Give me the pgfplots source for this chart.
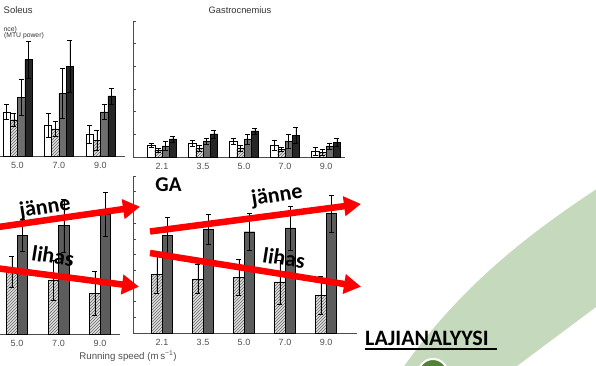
\documentclass[border=0pt]{standalone}
\usepackage{fontspec}
\setmainfont{Liberation Sans}
\newfontfamily\calibri{Carlito}
\usepackage{pgfplots}
\pgfplotsset{compat=1.18}
\usetikzlibrary{patterns,arrows.meta}

\definecolor{bandgreen}{RGB}{197,218,188}
\definecolor{darkgreen}{RGB}{84,130,53}
\definecolor{barGray}{RGB}{110,110,110}
\definecolor{barGrayB}{RGB}{92,92,92}
\definecolor{barDark}{RGB}{38,38,38}
\definecolor{txtgray}{RGB}{80,80,80}

\pgfplotsset{
  panel/.style={
    scale only axis, clip=false,
    axis line style={black!70, line width=0.6pt},
    tick style={black!70, line width=0.5pt},
    tick align=inside, major tick length=3pt,
    xtick style={draw=none},
    xticklabel style={font=\fontsize{9}{10}\selectfont, text=txtgray},
    yticklabels={},
    axis x line*=bottom,
    ymin=0,
  },
  eb/.style={error bars/.cd, y dir=both, y explicit,
    error bar style={black, line width=0.5pt},
    error mark=|,
    error mark options={black, mark size=2.5pt, line width=0.5pt}},
  wbar/.style={fill=white, draw=black, line width=0.4pt, eb},
  hbar/.style={fill=gray!25, draw=black, line width=0.4pt,
    postaction={pattern=north east lines, pattern color=black!60}, eb},
  gbar/.style={fill=barGray, draw=black, line width=0.4pt, eb},
  ggbar/.style={fill=barGrayB, draw=black, line width=0.4pt, eb},
  kbar/.style={fill=barDark, draw=black, line width=0.4pt, eb},
}

\begin{document}
\begin{tikzpicture}
\begin{scope}
\clip (0pt,0pt) rectangle (596pt,366pt);
\fill[white] (0pt,0pt) rectangle (596pt,366pt);

\begin{scope}[x=1pt,y=1pt]
  % green decorative band
  \fill[bandgreen] (400,-6) .. controls (460,80) and (530,135) .. (620,192)
     -- (620,77) -- (596,59) -- (517,0) -- (512,-6) -- cycle;
  \draw[white, line width=2pt, fill=darkgreen] (433,-7.6) circle (14.6);
\end{scope}

% ---------- top left: Soleus ----------
\begin{axis}[panel,
  at={(-40pt,210pt)}, anchor=south west,
  width=165pt, height=136pt,
  ybar=0pt, bar width=7.3pt,
  xmin=-1.3855, xmax=2.5904, ymax=6,
  axis y line=none,
  xtick={0,1,2}, xticklabels={5.0,7.0,9.0}]
\addplot[wbar] coordinates
  {(0,1.95) +- (0,0.35) (1,1.37) +- (0,0.53) (2,0.97) +- (0,0.40)};
\addplot[hbar] coordinates
  {(0,1.60) +- (0,0.30) (1,1.20) +- (0,0.35) (2,0.70) +- (0,0.45)};
\addplot[gbar] coordinates
  {(0,2.60) +- (0,0.80) (1,2.75) +- (0,1.10) (2,1.95) +- (0,0.35)};
\addplot[kbar] coordinates
  {(0,4.25) +- (0,0.80) (1,3.95) +- (0,1.15) (2,2.65) +- (0,0.35)};
\end{axis}

% ---------- top right: Gastrocnemius ----------
\begin{axis}[panel,
  at={(133pt,209pt)}, anchor=south west,
  width=212pt, height=136pt,
  ybar=0pt, bar width=7.3pt,
  xmin=-0.7073, xmax=4.4634, ymax=6,
  axis y line*=left, ytick={0,...,6},
  xtick={0,1,2,3,4}, xticklabels={2.1,3.5,5.0,7.0,9.0}]
\addplot[wbar] coordinates
  {(0,0.53) +- (0,0.09) (1,0.62) +- (0,0.13) (2,0.71) +- (0,0.13) (3,0.53) +- (0,0.22) (4,0.27) +- (0,0.18)};
\addplot[hbar] coordinates
  {(0,0.31) +- (0,0.09) (1,0.40) +- (0,0.13) (2,0.40) +- (0,0.13) (3,0.35) +- (0,0.09) (4,0.22) +- (0,0.13)};
\addplot[gbar] coordinates
  {(0,0.49) +- (0,0.20) (1,0.71) +- (0,0.13) (2,0.80) +- (0,0.22) (3,0.71) +- (0,0.31) (4,0.49) +- (0,0.13)};
\addplot[kbar] coordinates
  {(0,0.80) +- (0,0.13) (1,1.02) +- (0,0.18) (2,1.15) +- (0,0.13) (3,0.97) +- (0,0.35) (4,0.66) +- (0,0.18)};
\end{axis}

% ---------- bottom left: SOL ----------
\begin{axis}[panel,
  at={(-40pt,32pt)}, anchor=south west,
  width=160pt, height=157pt,
  ybar=0pt, bar width=10.5pt,
  xmin=-1.3735, xmax=2.4819, ymax=10,
  axis y line=none,
  xtick={0,1,2}, xticklabels={5.0,7.0,9.0}]
\addplot[hbar] coordinates
  {(0,3.95) +- (0,1.00) (1,3.40) +- (0,1.27) (2,2.60) +- (0,1.40)};
\addplot[ggbar] coordinates
  {(0,6.30) +- (0,1.00) (1,6.90) +- (0,1.70) (2,7.60) +- (0,1.40)};
\end{axis}

% ---------- bottom right: GA ----------
\begin{axis}[panel,
  at={(133pt,33pt)}, anchor=south west,
  width=224pt, height=157pt,
  ybar=0pt, bar width=10.5pt,
  xmin=-0.7073, xmax=4.7561, ymax=10,
  axis y line*=left, ytick={0,...,10},
  xtick={0,1,2,3,4}, xticklabels={2.1,3.5,5.0,7.0,9.0}]
\addplot[hbar] coordinates
  {(0,3.75) +- (0,1.20) (1,3.45) +- (0,0.95) (2,3.55) +- (0,1.15) (3,3.25) +- (0,1.40) (4,2.40) +- (0,1.20)};
\addplot[ggbar] coordinates
  {(0,6.20) +- (0,1.20) (1,6.60) +- (0,0.95) (2,6.45) +- (0,1.15) (3,6.70) +- (0,1.40) (4,7.60) +- (0,1.20)};
\end{axis}

\begin{scope}[x=1pt,y=1pt]
  % titles and labels
  \node[anchor=west, inner sep=0, font=\fontsize{9.5}{10}\selectfont, text=black!80] at (3.5,356) {Soleus};
  \node[inner sep=0, font=\fontsize{9.3}{10}\selectfont, text=black!80] at (240,356) {Gastrocnemius};
  \node[anchor=east, inner sep=0, font=\fontsize{6.8}{7}\selectfont, text=black!80] at (17,336.5) {nce)};
  \node[anchor=east, inner sep=0, font=\fontsize{6.8}{7}\selectfont, text=black!80] at (44,330.5) {(MTU power)};
  \node[inner sep=0, font=\fontsize{9.7}{10}\selectfont, text=txtgray] at (128,10) {Running speed (m\,s\textsuperscript{−1})};

  % red arrows
  \begin{scope}[red, line width=6.5pt]
    \draw[-{Triangle[length=17pt,width=19pt]}] (150,134.5) -- (361,162);
    \draw[-{Triangle[length=17pt,width=19pt]}] (150,113) -- (361,79.3);
    \draw[-{Triangle[length=17pt,width=19pt]}] (-5,138.5) -- (140,159.3);
    \draw[-{Triangle[length=17pt,width=19pt]}] (-5,98) -- (139,79.3);
  \end{scope}

  % annotations
  \node[font=\calibri\bfseries\fontsize{21}{22}\selectfont] at (168.5,181) {GA};
  \node[rotate=9, font=\calibri\bfseries\fontsize{22}{24}\selectfont] at (277,170) {jänne};
  \node[rotate=9, font=\calibri\bfseries\fontsize{22}{24}\selectfont] at (45,158) {jänne};
  \node[rotate=-9, font=\calibri\bfseries\fontsize{22}{24}\selectfont] at (284,108) {lihas};
  \node[rotate=-9, font=\calibri\bfseries\fontsize{22}{24}\selectfont] at (53,110) {lihas};

  \node[anchor=base west, inner sep=0, font=\calibri\bfseries\fontsize{22}{24}\selectfont] at (365,20) {LAJIANALYYSI};
  \draw[line width=1.3pt] (365,17) -- (497,17);
\end{scope}
\end{scope}
\pgfresetboundingbox
\useasboundingbox (0pt,0pt) rectangle (596pt,366pt);
\end{tikzpicture}
\end{document}
